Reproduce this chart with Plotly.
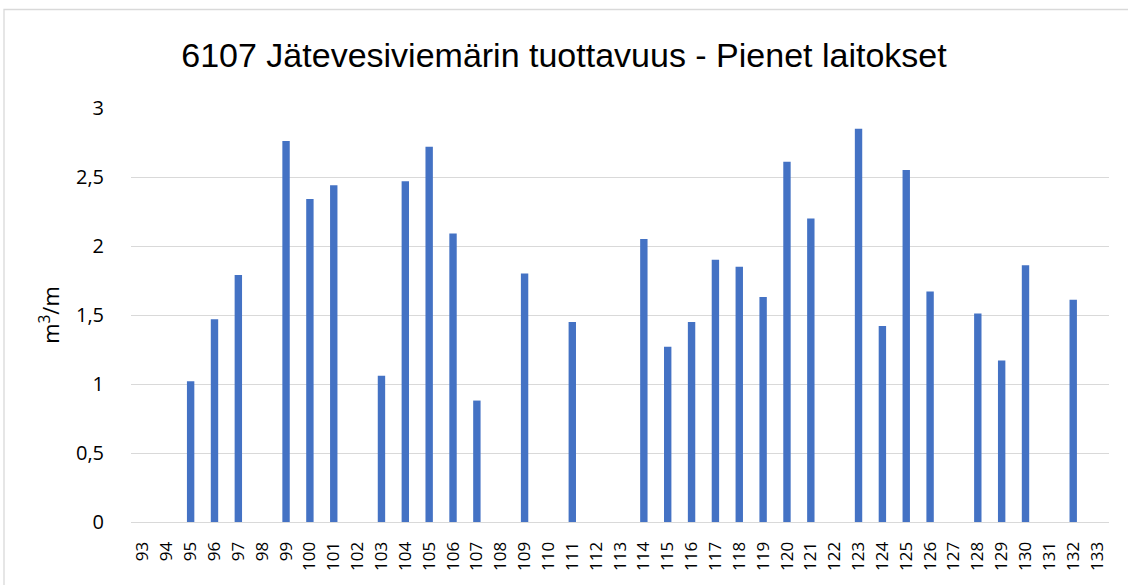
import plotly.graph_objects as go

# Plant numbers on the category axis
plants = [str(n) for n in range(93, 134)]

# Sewer productivity per plant (m³/m); None where a plant has no value
productivity = [
    None, None, 1.02, 1.47, 1.79, None, 2.76, 2.34, 2.44, None,   # 93-102
    1.06, 2.47, 2.72, 2.09, 0.88, None, 1.80, None, 1.45, None,   # 103-112
    None, 2.05, 1.27, 1.45, 1.90, 1.85, 1.63, 2.61, 2.20, None,   # 113-122
    2.85, 1.42, 2.55, 1.67, None, 1.51, 1.17, 1.86, None, 1.61,   # 123-132
    None,                                                          # 133
]

y_ticks = [0, 0.5, 1, 1.5, 2, 2.5, 3]

FONT = "Liberation Sans Narrow, Liberation Sans, Arial, sans-serif"
TICK_FONT = "Open Sans, Liberation Sans, sans-serif"
BAR_COLOR = "#4472C4"
GRID_COLOR = "#d9d9d9"

fig = go.Figure(
    go.Bar(
        x=plants,
        y=productivity,
        marker=dict(color=BAR_COLOR, line=dict(width=0)),
    )
)

W, H = 1128, 585
L, R, T, B = 131, 19, 108, 63
pw, ph = W - L - R, H - T - B

fig.update_layout(
    width=W,
    height=H,
    margin=dict(l=L, r=R, t=T, b=B, pad=0),
    paper_bgcolor="white",
    plot_bgcolor="white",
    separators=", ",
    bargap=0.69,
    showlegend=False,
    font=dict(family=TICK_FONT, color="#000000"),
    title=dict(
        text="6107 Jätevesiviemärin tuottavuus - Pienet laitokset",
        font=dict(family=FONT, size=34, color="#000000"),
        x=0.5,
        xanchor="center",
        y=1 - 55 / H,
        yanchor="middle",
    ),
    xaxis=dict(
        type="category",
        tickangle=-90,
        tickfont=dict(family=TICK_FONT, size=17, color="#000000"),
        showgrid=False,
        showline=False,
        ticks="outside",
        ticklen=12,
        tickcolor="rgba(0,0,0,0)",
    ),
    yaxis=dict(
        range=[0, 3],
        tickvals=y_ticks,
        tickfont=dict(family=TICK_FONT, size=20, color="#000000"),
        showgrid=True,
        gridcolor=GRID_COLOR,
        gridwidth=1.3,
        zeroline=True,
        zerolinecolor=GRID_COLOR,
        zerolinewidth=1.3,
        showline=False,
        ticks="outside",
        ticklen=22,
        tickcolor="rgba(0,0,0,0)",
        title=dict(
            text="m<sup>3</sup>/m",
            font=dict(family=TICK_FONT, size=22, color="#000000"),
            standoff=10,
        ),
    ),
)

# Light chart-area frame along the left and top edges
fig.add_shape(
    type="rect",
    xref="paper",
    yref="paper",
    x0=(4 - L) / pw,
    x1=(W + 20 - L) / pw,
    y0=-(B + 20) / ph,
    y1=1 + (T - 9.5) / ph,
    line=dict(color="#d9d9d9", width=1.3),
    fillcolor="rgba(0,0,0,0)",
    layer="below",
)

fig.write_html("out.html")
